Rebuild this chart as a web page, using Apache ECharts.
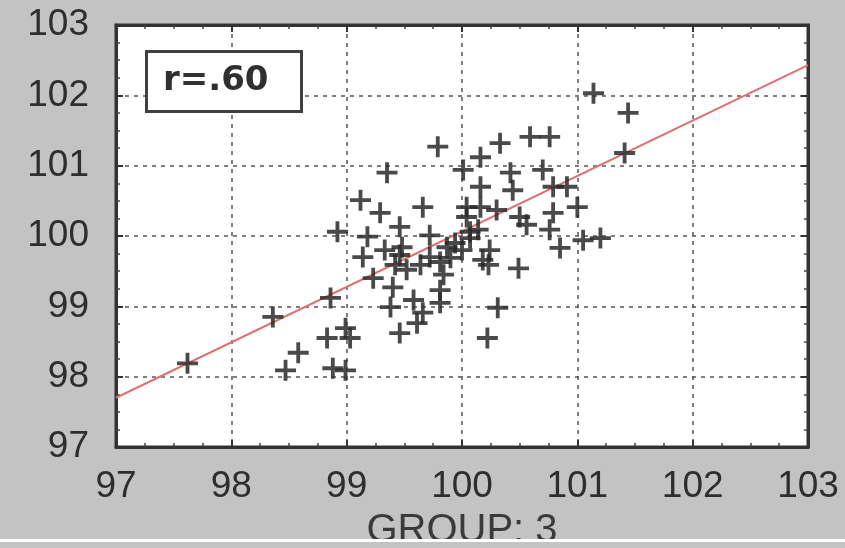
<!DOCTYPE html>
<html>
<head>
<meta charset="utf-8">
<script src="https://cdn.jsdelivr.net/npm/echarts@6/dist/echarts.min.js"></script>
<style>
html,body{margin:0;padding:0;background:#c3c3c3;}
#chart{width:845px;height:548px;}
</style>
</head>
<body>
<div id="chart"></div>
<script>
const groupX = [97.62,98.36,98.58,98.47,98.86,98.83,98.99,99.03,98.88,98.99,
  98.92,99.12,99.35,99.29,99.18,99.14,99.23,99.46,99.48,99.46,
  99.66,99.72,99.72,99.40,99.38,99.46,99.61,99.58,99.66,99.52,
  99.84,99.81,99.81,99.79,100.04,100.07,100.01,100.04,100.16,100.16,
  100.16,100.18,100.24,100.23,100.33,100.42,100.44,100.50,100.49,100.56,
  100.59,100.76,100.70,100.79,100.91,101.00,100.79,100.76,100.85,101.05,
  101.20,101.14,101.44,101.41,100.31,100.22,99.87,99.94,99.90,99.64,
  99.33,99.42,99.81,100.14,100.30,100.00,100.07];
const groupY = [98.19,98.85,98.34,98.09,99.12,98.55,98.69,98.55,98.12,98.09,
  100.06,100.51,100.90,100.33,99.99,99.70,99.40,100.13,99.84,99.73,
  100.41,100.01,99.70,99.27,98.99,98.62,98.76,99.09,98.91,99.52,
  99.45,99.23,99.05,101.27,100.27,100.06,100.94,100.41,101.12,100.70,
  100.41,99.66,99.80,99.59,101.32,100.90,100.65,100.27,99.54,100.16,
  101.41,101.41,100.94,100.70,100.70,100.41,100.33,100.09,99.83,99.94,
  99.97,102.03,101.75,101.18,98.98,98.55,99.84,99.90,99.69,99.59,
  99.80,99.59,99.63,100.09,100.37,99.80,99.97];
const fitX = [97, 103];
const fitY = [97.70, 102.43];
const axisMin = 97, axisMax = 103, axisStep = 1;
const corrLabel = 'r=.60';
const xTitle = 'GROUP: 3';

const points = groupX.map((x, i) => [x, groupY[i]]);
const fitLine = fitX.map((x, i) => [x, fitY[i]]);

const chart = echarts.init(document.getElementById('chart'));
const labelFont = {fontFamily: 'Liberation Sans, Arial, sans-serif', fontSize: 37, color: '#2e2e2e'};
const plusPath = 'path://M9,0 H13 V9 H22 V13 H13 V22 H9 V13 H0 V9 H9 Z';

function valAxis(extra) {
  return Object.assign({
    type: 'value', min: axisMin, max: axisMax, interval: axisStep,
    axisLine: {show: true, lineStyle: {color: '#333', width: 3}},
    axisTick: {show: true, inside: true, length: 7, lineStyle: {color: '#333', width: 2}},
    minorTick: {show: true, splitNumber: 4, length: 4, lineStyle: {color: '#444', width: 1.5}},
    splitLine: {show: false}
  }, extra);
}

chart.setOption({
  backgroundColor: '#c3c3c3',
  animation: false,
  grid: {left: 116, right: 37, top: 25, bottom: 101, outerBoundsMode: 'none', containLabel: false,
    show: true, backgroundColor: '#ffffff', borderColor: '#333', borderWidth: 3},
  xAxis: [
    valAxis({position: 'bottom',
      axisLabel: Object.assign({margin: 21}, labelFont),
      splitLine: {show: true, lineStyle: {color: '#555', width: 1.5, type: [4, 5]}},
      name: xTitle, nameLocation: 'middle', nameGap: 64,
      nameTextStyle: {fontFamily: 'Liberation Sans, Arial, sans-serif', fontSize: 40, color: '#3a3a3a'}}),
    valAxis({position: 'top', axisLabel: {show: false}})
  ],
  yAxis: [
    valAxis({position: 'left',
      axisLabel: Object.assign({margin: 27}, labelFont),
      splitLine: {show: true, lineStyle: {color: '#555', width: 1.5, type: [4, 5]}}}),
    valAxis({position: 'right', axisLabel: {show: false}})
  ],
  series: [
    {
      type: 'line', data: fitLine, xAxisIndex: 0, yAxisIndex: 0,
      symbol: 'none', lineStyle: {color: '#e07070', width: 2}, z: 3
    },
    {
      type: 'scatter', data: points, xAxisIndex: 0, yAxisIndex: 0,
      symbol: plusPath, symbolSize: 21,
      itemStyle: {color: '#2a2a2a', opacity: 0.85}, z: 4
    }
  ],
  graphic: [
    {type: 'rect', left: 145, top: 50, z: 10,
      shape: {width: 155, height: 60},
      style: {fill: '#ffffff', stroke: '#404040', lineWidth: 3}},
    {type: 'text', left: 163, top: 64, z: 11,
      style: {text: corrLabel, font: 'bold 34px "DejaVu Sans", sans-serif', fill: '#303030'}},
    {type: 'rect', left: 0, top: 539, z: 20, shape: {width: 845, height: 3}, style: {fill: '#ffffff'}},
    {type: 'rect', left: 0, top: 542, z: 20, shape: {width: 845, height: 6}, style: {fill: '#c3c3c3'}}
  ]
});
</script>
</body>
</html>
